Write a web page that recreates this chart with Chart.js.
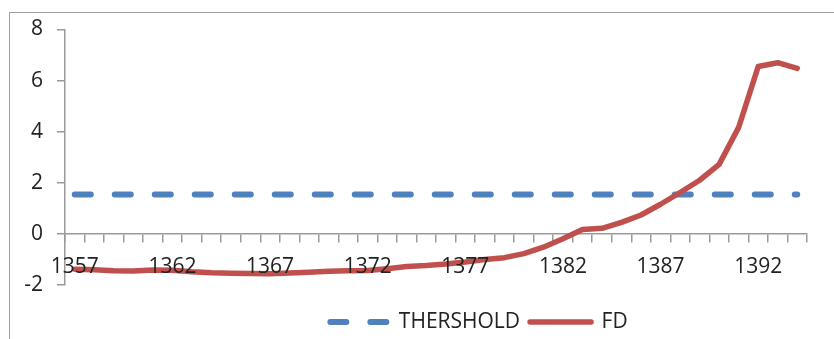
<!DOCTYPE html>
<html lang="en">
<head>
  <meta charset="UTF-8">
  <title>FD vs threshold</title>
  <script src="https://cdn.jsdelivr.net/npm/chart.js"></script>
  <style>
    * {
      margin: 0;
      padding: 0;
      box-sizing: border-box;
    }

    body {
      background: #fff;
      width: 834px;
      height: 339px;
      overflow: hidden;
      position: relative;
    }

    .frame {
      position: absolute;
      left: 9px;
      top: 12px;
      width: 900px;
      height: 400px;
      border-top: 1px solid #a0a0a0;
      border-left: 1px solid #a0a0a0;
      pointer-events: none;
    }

    canvas {
      position: absolute;
      left: 0;
      top: 0;
    }
  </style>
</head>
<body>
  <div class="frame"></div>
  <canvas id="fdChart" width="834" height="339"></canvas>

  <script>
    const years = [
      '1357', '1358', '1359', '1360', '1361', '1362', '1363', '1364', '1365', '1366',
      '1367', '1368', '1369', '1370', '1371', '1372', '1373', '1374', '1375', '1376',
      '1377', '1378', '1379', '1380', '1381', '1382', '1383', '1384', '1385', '1386',
      '1387', '1388', '1389', '1390', '1391', '1392', '1393', '1394'
    ];

    const threshold = [
      1.54, 1.54, 1.54, 1.54, 1.54, 1.54, 1.54, 1.54, 1.54, 1.54,
      1.54, 1.54, 1.54, 1.54, 1.54, 1.54, 1.54, 1.54, 1.54, 1.54,
      1.54, 1.54, 1.54, 1.54, 1.54, 1.54, 1.54, 1.54, 1.54, 1.54,
      1.54, 1.54, 1.54, 1.54, 1.54, 1.54, 1.54, 1.54
    ];

    const fd = [
      -1.38, -1.40, -1.44, -1.45, -1.41, -1.42, -1.48, -1.52, -1.54, -1.55,
      -1.56, -1.53, -1.50, -1.46, -1.44, -1.43, -1.36, -1.28, -1.24, -1.18,
      -1.10, -1.00, -0.93, -0.77, -0.52, -0.19, 0.17, 0.22, 0.45, 0.74,
      1.16, 1.62, 2.10, 2.72, 4.17, 6.55, 6.70, 6.48
    ];

    const yTicks = { min: -2, max: 8, step: 2 };

    const axisGray = '#9a9a9a';
    const textColor = '#222';
    const font = { family: "'Open Sans', sans-serif", size: 21 };

    // moves the legend row sideways after layout
    const legendShift = {
      id: 'legendShift',
      afterLayout(chart) {
        chart.legend.left += 74;
        chart.legend.right += 74;
      }
    };

    new Chart(document.getElementById('fdChart'), {
      type: 'line',
      data: {
        labels: years,
        datasets: [
          {
            label: 'THERSHOLD',
            data: threshold,
            borderColor: '#4f81bd',
            backgroundColor: '#4f81bd',
            borderWidth: 6,
            borderDash: [16, 24],
            borderCapStyle: 'round',
            pointRadius: 0,
            tension: 0,
            order: 1
          },
          {
            label: 'FD',
            data: fd,
            borderColor: '#c0504d',
            backgroundColor: '#c0504d',
            borderWidth: 5.5,
            borderCapStyle: 'round',
            borderJoinStyle: 'round',
            pointRadius: 0,
            tension: 0,
            order: 0
          }
        ]
      },
      plugins: [legendShift],
      options: {
        responsive: false,
        animation: false,
        devicePixelRatio: 1,
        layout: {
          padding: { top: 29.5, right: 27, bottom: -3.5, left: 0 }
        },
        plugins: {
          tooltip: { enabled: false },
          legend: {
            position: 'bottom',
            labels: {
              usePointStyle: true,
              pointStyle: 'line',
              pointStyleWidth: 61,
              padding: 10,
              color: textColor,
              font: font,
              generateLabels(chart) {
                const items = Chart.defaults.plugins.legend.labels.generateLabels(chart);
                items.sort((a, b) => a.datasetIndex - b.datasetIndex);
                items.forEach(item => {
                  const ds = chart.data.datasets[item.datasetIndex];
                  item.lineWidth = ds.borderWidth;
                  item.lineCap = 'round';
                  item.lineDash = ds.borderDash || [];
                  item.lineDashOffset = ds.borderDash ? -3 : 0;
                  item.strokeStyle = ds.borderColor;
                });
                return items;
              }
            }
          }
        },
        scales: {
          x: {
            type: 'category',
            position: { y: 0 },
            offset: true,
            grid: {
              offset: true,
              drawOnChartArea: false,
              drawTicks: true,
              tickLength: 8,
              color: axisGray,
              lineWidth: 1.5
            },
            border: { color: axisGray, width: 1.5 },
            ticks: {
              autoSkip: false,
              maxRotation: 0,
              minRotation: 0,
              padding: 13,
              color: textColor,
              font: font,
              z: 1,
              callback(value, index) {
                return index % 5 === 0 ? this.getLabelForValue(value) : '';
              }
            }
          },
          // empty band between the plot and the legend
          spacer: {
            type: 'linear',
            position: 'bottom',
            display: true,
            grid: { display: false },
            border: { display: false },
            ticks: { display: false },
            afterFit(scale) {
              scale.height = 16.5;
            }
          },
          y: {
            min: yTicks.min,
            max: yTicks.max,
            grid: {
              drawOnChartArea: false,
              drawTicks: true,
              tickLength: 8,
              color: axisGray,
              lineWidth: 1.5
            },
            border: { color: axisGray, width: 1.5 },
            ticks: {
              stepSize: yTicks.step,
              padding: 14,
              color: textColor,
              font: font
            },
            afterFit(scale) {
              scale.width = 65;
            }
          }
        }
      }
    });
  </script>
</body>
</html>
